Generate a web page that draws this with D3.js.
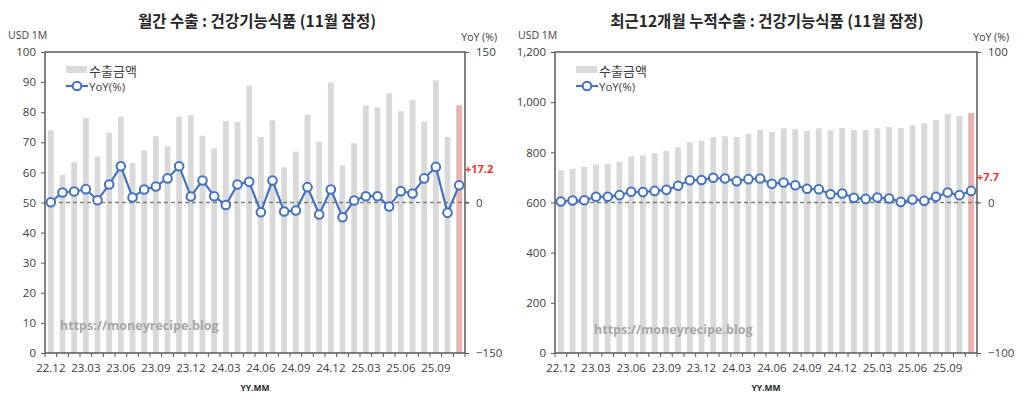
<!DOCTYPE html>
<html>
<head>
<meta charset="utf-8">
<script src="https://cdn.jsdelivr.net/npm/d3@7"></script>
<style>
  body { margin: 0; background: #fff; }
  svg { display: block; }
  .tick text { fill: #404040; }
</style>
</head>
<body>
<svg id="chart" width="1024" height="408"></svg>
<script>
// months 22.12 ~ 25.11
const months = ["22.12",
  "23.01","23.02","23.03","23.04","23.05","23.06","23.07","23.08","23.09","23.10","23.11","23.12",
  "24.01","24.02","24.03","24.04","24.05","24.06","24.07","24.08","24.09","24.10","24.11","24.12",
  "25.01","25.02","25.03","25.04","25.05","25.06","25.07","25.08","25.09","25.10","25.11"]
const xTickLabels = ["22.12","23.03","23.06","23.09","23.12","24.03","24.06","24.09","24.12","25.03","25.06","25.09"]

// 월간 수출 (USD 1M) and YoY (%)
const monthlyExport = [74.0, 59.2, 63.4, 78.1, 65.2, 73.2, 78.5, 63.1, 67.3, 72.0, 68.7, 78.5,
  79.0, 72.2, 68.0, 77.0, 76.7, 88.9, 71.8, 77.3, 61.7, 66.9, 79.2, 70.2,
  89.9, 62.3, 69.7, 82.2, 81.6, 86.4, 80.3, 84.1, 76.8, 90.6, 71.8, 82.3]
const monthlyYoY = [0.3, 10, 11, 13.3, 2.3, 17.9, 36.2, 5, 13, 16, 24, 36.2,
  6, 22, 6.3, -2.5, 18, 20.6, -9.7, 22, -9, -8, 15.3, -12,
  13, -14.7, 2, 6.3, 6.3, -4, 11.3, 9, 24, 35.5, -10.3, 17.2]

// 최근 12개월 누적수출 (USD 1M) and YoY (%)
const cumExport = [729, 734, 742, 751, 754, 762, 784, 788, 796, 806, 820, 840,
  846, 860, 864, 861, 873, 889, 881, 896, 892, 885, 896, 888,
  897, 889, 889, 896, 901, 897, 908, 915, 929, 953, 945, 957]
const cumYoY = [0.7, 1.3, 1.5, 3.8, 3.8, 4.9, 7.1, 6.9, 7.7, 8.4, 11.1, 14.8,
  15, 16.4, 15.9, 14.2, 15.5, 15.9, 12.4, 13.3, 11.5, 9.1, 8.8, 5.5,
  6, 3.1, 2.4, 3.3, 2.7, 0.4, 2, 1.1, 3.8, 6.6, 4.9, 7.7]

const leftTicks1 = [0, 10, 20, 30, 40, 50, 60, 70, 80, 90, 100]
const rightTicks1 = [-150, 0, 150]
const leftTicks2 = [0, 200, 400, 600, 800, 1000, 1200]
const rightTicks2 = [-100, 0, 100]

const svg = d3.select("#chart")
const fontKR = "'Noto Sans CJK KR', 'Noto Sans', sans-serif"
const fontNum = "'Open Sans', 'Liberation Sans', sans-serif"
const barGray = "#d9d9d9"
const barRed = "#e8b3b3"
const lineBlue = "#4472c4"
const frame = "#595959"

function drawChart({left, right, top, bottom, title, bars, yoy, yLim, yTicks, yFormat,
                    rLim, rTicks, lastLabel, labelDy, titleX, watermarkX, watermarkY}) {
    const g = svg.append("g")

    const xScale = d3.scaleBand().domain(months).range([left, right])
        .paddingInner(0.5).paddingOuter(0.25)
    const yScale = d3.scaleLinear().domain(yLim).range([bottom, top])
    const rScale = d3.scaleLinear().domain(rLim).range([bottom, top])

    // bars
    g.selectAll("rect.bar")
      .data(months)
      .join("rect")
      .attr("class", "bar")
      .attr("x", d => xScale(d))
      .attr("width", xScale.bandwidth())
      .attr("y", (d, i) => yScale(bars[i]))
      .attr("height", (d, i) => yScale(0) - yScale(bars[i]))
      .attr("fill", (d, i) => i === months.length - 1 ? barRed : barGray)

    // zero line of yoy
    g.append("line")
      .attr("x1", left).attr("x2", right + 5)
      .attr("y1", rScale(0)).attr("y2", rScale(0))
      .attr("stroke", "#7f7f7f").attr("stroke-width", 1.5)
      .attr("stroke-dasharray", "4,3")

    // frame
    g.append("rect")
      .attr("x", left).attr("y", top)
      .attr("width", right - left).attr("height", bottom - top)
      .attr("fill", "none").attr("stroke", frame).attr("stroke-width", 1.5)

    // left axis
    const yAxis = d3.axisLeft(yScale).tickValues(yTicks).tickSize(4).tickSizeOuter(0).tickFormat(yFormat)
    const yAxisSVG = g.append("g").attr("transform", `translate(${left},0)`).call(yAxis)
    yAxisSVG.select(".domain").remove()
    yAxisSVG.selectAll(".tick line").attr("stroke", frame)
    yAxisSVG.selectAll(".tick text").attr("font-family", fontNum).attr("font-size", 11.5).attr("dx", -2)

    // right axis
    const rAxis = d3.axisRight(rScale).tickValues(rTicks).tickSize(4).tickSizeOuter(0)
    const rAxisSVG = g.append("g").attr("transform", `translate(${right},0)`).call(rAxis)
    rAxisSVG.select(".domain").remove()
    rAxisSVG.selectAll(".tick line").attr("stroke", frame)
    rAxisSVG.selectAll(".tick text").attr("font-family", fontNum).attr("font-size", 11.5).attr("dx", 4)

    // bottom axis: boundary ticks + labels every quarter
    const step = xScale.step()
    g.selectAll("line.xtick")
      .data(d3.range(months.length + 1))
      .join("line")
      .attr("class", "xtick")
      .attr("x1", i => left + i * step).attr("x2", i => left + i * step)
      .attr("y1", bottom).attr("y2", bottom + 4)
      .attr("stroke", frame).attr("stroke-width", 1)
    const xAxis = d3.axisBottom(xScale).tickValues(xTickLabels).tickSize(0).tickSizeOuter(0)
    const xAxisSVG = g.append("g").attr("transform", `translate(0,${bottom})`).call(xAxis)
    xAxisSVG.select(".domain").remove()
    xAxisSVG.selectAll(".tick text").attr("font-family", fontNum).attr("font-size", 11.5).attr("dy", 16)

    // yoy line
    const line = d3.line()
        .x((d, i) => xScale(months[i]) + xScale.bandwidth() / 2)
        .y(d => rScale(d))
    g.append("path")
      .datum(yoy)
      .attr("d", line)
      .attr("fill", "none").attr("stroke", lineBlue).attr("stroke-width", 2.2)
    g.selectAll("circle.pt")
      .data(yoy)
      .join("circle")
      .attr("class", "pt")
      .attr("cx", (d, i) => xScale(months[i]) + xScale.bandwidth() / 2)
      .attr("cy", d => rScale(d))
      .attr("r", 4.3)
      .attr("fill", "#fff").attr("stroke", lineBlue).attr("stroke-width", 2)

    // last value label
    const last = yoy[yoy.length - 1]
    g.append("text")
      .text(lastLabel)
      .attr("x", right)
      .attr("y", rScale(last) + labelDy)
      .attr("font-family", fontNum).attr("font-size", 11).attr("font-weight", "bold")
      .attr("fill", "#ff2b2b")

    // title + axis captions
    g.append("text")
      .text(title)
      .attr("x", titleX).attr("y", 27)
      .attr("text-anchor", "middle")
      .attr("font-family", fontKR).attr("font-size", 15.5).attr("font-weight", "bold")
      .attr("fill", "#262626")
    g.append("text")
      .text("USD 1M")
      .attr("x", left - 37).attr("y", 39)
      .attr("font-family", fontNum).attr("font-size", 10.5)
      .attr("fill", "#404040")
    g.append("text")
      .text("YoY (%)")
      .attr("x", right + 32).attr("y", 41)
      .attr("text-anchor", "end")
      .attr("font-family", fontNum).attr("font-size", 10.5)
      .attr("fill", "#404040")
    g.append("text")
      .text("YY.MM")
      .attr("x", (left + right) / 2).attr("y", 391)
      .attr("text-anchor", "middle")
      .attr("font-family", fontNum).attr("font-size", 8.5).attr("font-weight", "bold")
      .attr("fill", "#262626")

    // legend
    g.append("rect")
      .attr("x", left + 21).attr("y", top + 14)
      .attr("width", 21).attr("height", 7)
      .attr("fill", barGray)
    g.append("text")
      .text("수출금액")
      .attr("x", left + 44).attr("y", top + 18)
      .attr("dominant-baseline", "central")
      .attr("font-family", fontKR).attr("font-size", 13)
      .attr("fill", "#404040")
    g.append("line")
      .attr("x1", left + 21).attr("x2", left + 43)
      .attr("y1", top + 34).attr("y2", top + 34)
      .attr("stroke", lineBlue).attr("stroke-width", 2.2)
    g.append("circle")
      .attr("cx", left + 32).attr("cy", top + 34).attr("r", 4.3)
      .attr("fill", "#fff").attr("stroke", lineBlue).attr("stroke-width", 2)
    g.append("text")
      .text("YoY(%)")
      .attr("x", left + 44).attr("y", top + 34)
      .attr("dominant-baseline", "central")
      .attr("font-family", fontNum).attr("font-size", 11.5)
      .attr("fill", "#404040")

    // watermark
    g.append("text")
      .text("https://moneyrecipe.blog")
      .attr("x", watermarkX).attr("y", watermarkY)
      .attr("dominant-baseline", "central")
      .attr("font-family", fontNum).attr("font-size", 12.5).attr("font-weight", "bold")
      .attr("fill", "#a6a6a6")
}

drawChart({
    left: 45, right: 465, top: 52, bottom: 353,
    title: "월간 수출 : 건강기능식품 (11월 잠정)",
    bars: monthlyExport, yoy: monthlyYoY,
    yLim: [0, 100], yTicks: leftTicks1, yFormat: d3.format("d"),
    rLim: [-150, 150], rTicks: rightTicks1,
    lastLabel: "+17.2", labelDy: -12,
    titleX: 257, watermarkX: 60, watermarkY: 325
})

drawChart({
    left: 555, right: 977, top: 52, bottom: 353,
    title: "최근12개월 누적수출 : 건강기능식품 (11월 잠정)",
    bars: cumExport, yoy: cumYoY,
    yLim: [0, 1200], yTicks: leftTicks2, yFormat: d3.format(","),
    rLim: [-100, 100], rTicks: rightTicks2,
    lastLabel: "+7.7", labelDy: -10,
    titleX: 767, watermarkX: 594, watermarkY: 329
})
</script>
</body>
</html>
